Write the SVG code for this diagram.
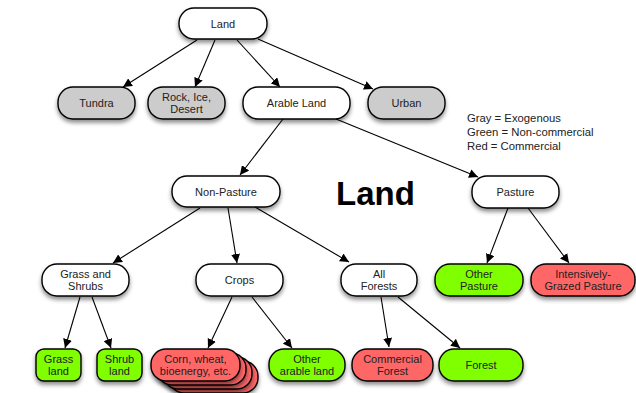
<svg xmlns="http://www.w3.org/2000/svg" width="636" height="393" viewBox="0 0 636 393">
<defs>
<filter id="sh" x="-20%" y="-30%" width="140%" height="170%">
<feDropShadow dx="0" dy="3" stdDeviation="2" flood-color="#000" flood-opacity="0.45"/>
</filter>
<marker id="ah" viewBox="0 0 10 10" refX="10" refY="5" markerWidth="9" markerHeight="9" markerUnits="userSpaceOnUse" orient="auto">
<path d="M0,0 L10,5 L0,10 z" fill="#000"/>
</marker>
<style>
.n rect{stroke:#000;stroke-width:1.4;filter:url(#sh)}
.w rect{fill:#fff}
.g rect{fill:#cccccc}
.gr rect{fill:#80ff00}
.r rect{fill:#ff6666}
text{font-family:"Liberation Sans",Arial,sans-serif;font-size:11px;fill:#222;text-anchor:middle}
.c line{stroke:#000;stroke-width:1.1;marker-end:url(#ah)}
.leg{text-anchor:start;font-size:11.3px}
</style>
</defs>
<rect width="636" height="393" fill="#fff"/>
<g class="c" id="connectors">
<line x1="197" y1="40" x2="123" y2="87"/>
<line x1="215" y1="40" x2="195" y2="87"/>
<line x1="237" y1="40" x2="280" y2="87"/>
<line x1="258" y1="39" x2="373" y2="89"/>
<line x1="283" y1="119" x2="240" y2="175"/>
<line x1="336" y1="119" x2="478" y2="177"/>
<line x1="200" y1="208" x2="113" y2="263"/>
<line x1="228" y1="208" x2="237" y2="263"/>
<line x1="255" y1="207" x2="349" y2="262"/>
<line x1="508" y1="208" x2="487" y2="263"/>
<line x1="528" y1="208" x2="569" y2="263"/>
<line x1="80" y1="297" x2="65" y2="348"/>
<line x1="92" y1="297" x2="111" y2="348"/>
<line x1="232" y1="297" x2="208" y2="348"/>
<line x1="252" y1="297" x2="292" y2="348"/>
<line x1="381" y1="297" x2="389" y2="347"/>
<line x1="398" y1="297" x2="460" y2="348"/>
</g>
<g id="land" class="n w"><rect x="179" y="8" width="88" height="31" rx="15"/><text x="223" y="27.5">Land</text></g>
<g id="tundra" class="n g"><rect x="58" y="87" width="77" height="32" rx="15"/><text x="96.5" y="107">Tundra</text></g>
<g id="rock" class="n g"><rect x="148" y="87" width="77" height="32" rx="15"/><text x="186.5" y="100.5">Rock, Ice,</text><text x="186.5" y="113">Desert</text></g>
<g id="arable" class="n w"><rect x="243" y="87" width="107" height="32" rx="15"/><text x="296.5" y="107">Arable Land</text></g>
<g id="urban" class="n g"><rect x="368" y="87" width="77" height="32" rx="15"/><text x="406.5" y="107">Urban</text></g>
<g id="legend">
<text class="leg" x="467" y="122">Gray = Exogenous</text>
<text class="leg" x="467" y="136">Green = Non-commercial</text>
<text class="leg" x="467" y="150">Red = Commercial</text>
</g>
<text x="375.5" y="205" style="font-family:'Liberation Sans',Arial,sans-serif;font-size:33px;font-weight:bold;fill:#000">Land</text>
<g id="nonpasture" class="n w"><rect x="172" y="176" width="108" height="31" rx="15"/><text x="226" y="195.5">Non-Pasture</text></g>
<g id="pasture" class="n w"><rect x="472" y="176" width="87" height="32" rx="15"/><text x="515.5" y="196">Pasture</text></g>
<g id="grassshrubs" class="n w"><rect x="42" y="264" width="87" height="32" rx="15"/><text x="85.5" y="277.5">Grass and</text><text x="85.5" y="290">Shrubs</text></g>
<g id="crops" class="n w"><rect x="196" y="264" width="87" height="32" rx="15"/><text x="239.5" y="284">Crops</text></g>
<g id="allforests" class="n w"><rect x="341" y="264" width="76" height="32" rx="15"/><text x="379" y="277.5">All</text><text x="379" y="290">Forests</text></g>
<g id="otherpasture" class="n gr"><rect x="435" y="264" width="88" height="32" rx="15"/><text x="479" y="277.5">Other</text><text x="479" y="290">Pasture</text></g>
<g id="intensive" class="n r"><rect x="531" y="264" width="104" height="32" rx="15"/><text x="583" y="277.5">Intensively-</text><text x="583" y="290">Grazed Pasture</text></g>
<g id="grassland" class="n gr"><rect x="36" y="349" width="45" height="32" rx="8"/><text x="58.5" y="362.5">Grass</text><text x="58.5" y="375">land</text></g>
<g id="shrubland" class="n gr"><rect x="97" y="349" width="45" height="32" rx="8"/><text x="119.5" y="362.5">Shrub</text><text x="119.5" y="375">land</text></g>
<g id="corn" class="n r">
<rect x="169" y="361" width="89" height="32" rx="15"/>
<rect x="163" y="357" width="89" height="32" rx="15"/>
<rect x="157" y="353" width="89" height="32" rx="15"/>
<rect x="151" y="349" width="89" height="32" rx="15"/>
<text x="195.5" y="362.5">Corn, wheat,</text><text x="195.5" y="375">bioenergy, etc.</text>
</g>
<g id="otherarable" class="n gr"><rect x="269" y="349" width="76" height="32" rx="15"/><text x="307" y="362.5">Other</text><text x="307" y="375">arable land</text></g>
<g id="commercial" class="n r"><rect x="352" y="349" width="81" height="32" rx="15"/><text x="392.5" y="362.5">Commercial</text><text x="392.5" y="375">Forest</text></g>
<g id="forest" class="n gr"><rect x="439" y="349" width="84" height="32" rx="15"/><text x="481" y="369">Forest</text></g>
</svg>
